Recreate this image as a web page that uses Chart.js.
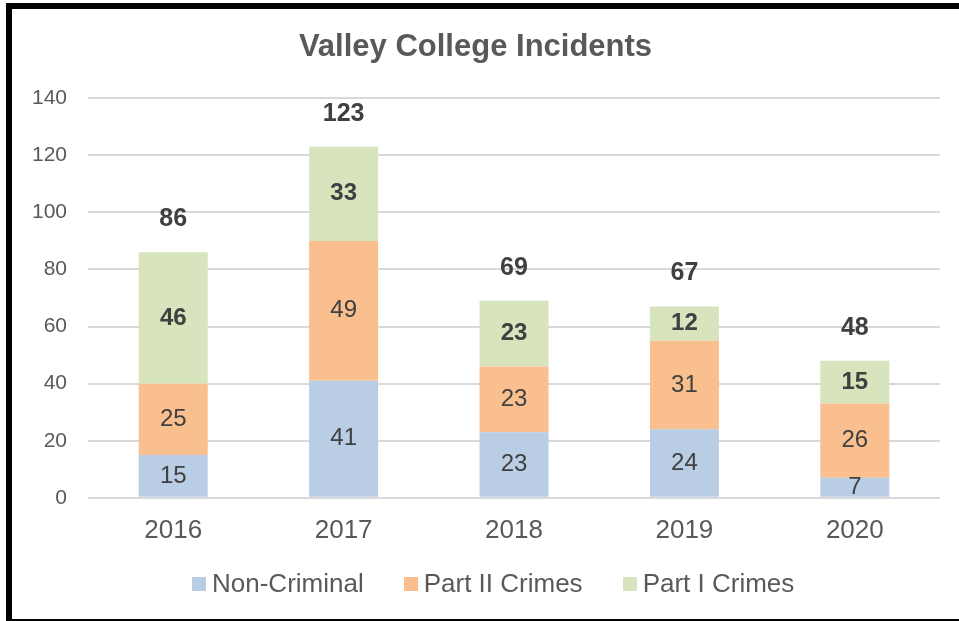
<!DOCTYPE html>
<html>
<head>
<meta charset="utf-8">
<script src="https://cdn.jsdelivr.net/npm/chart.js@4"></script>
<style>
  html, body { margin: 0; padding: 0; background: #fff; overflow: hidden; }
  #wrap { position: relative; width: 959px; height: 621px; }
  #frame {
    position: absolute; left: 6px; top: 3px; width: 1000px; height: 610px;
    border-left: 6px solid #000; border-top: 6px solid #000; border-bottom: 2px solid #000;
    pointer-events: none;
  }
  canvas { position: absolute; left: 0; top: 0; }
  #legend {
    position: absolute; left: 192px; top: 568px; height: 30px;
    display: flex; align-items: center;
    font-family: 'Liberation Sans', Arial, sans-serif; font-size: 26px; color: #595959;
    line-height: 30px; white-space: nowrap;
  }
  #legend .item { display: flex; align-items: center; margin-right: 40px; }
  #legend .box { width: 14px; height: 14px; margin-right: 6px; margin-top: 2px; }
</style>
</head>
<body>
<div id="wrap">
  <canvas id="c" width="959" height="621"></canvas>
  <div id="legend"></div>
  <div id="frame"></div>
</div>
<script>
const categories = ['2016', '2017', '2018', '2019', '2020'];
const seriesNames = ['Non-Criminal', 'Part II Crimes', 'Part I Crimes'];
const nonCriminal = [15, 41, 23, 24, 7];
const partII = [25, 49, 23, 31, 26];
const partI = [46, 33, 23, 12, 15];
const yTicks = [0, 20, 40, 60, 80, 100, 120, 140];
const seriesColors = ['#B9CDE5', '#F9BF8F', '#D7E4BD'];

const FONT = "'Liberation Sans', Arial, sans-serif";
const TEXT = '#595959';
const LABEL = '#404040';

const labelPlugin = {
  id: 'segLabels',
  afterDatasetsDraw(chart) {
    const ctx = chart.ctx;
    ctx.save();
    ctx.textAlign = 'center';
    ctx.textBaseline = 'middle';
    ctx.fillStyle = LABEL;
    chart.data.datasets.forEach((ds, di) => {
      const meta = chart.getDatasetMeta(di);
      meta.data.forEach((el, i) => {
        ctx.font = (ds.boldLabel ? 'bold ' : '') + '24px ' + FONT;
        ctx.fillText(String(ds.data[i]), el.x, (el.y + el.base) / 2);
      });
    });
    const last = chart.getDatasetMeta(chart.data.datasets.length - 1);
    ctx.font = 'bold 25px ' + FONT;
    last.data.forEach((el, i) => {
      const total = chart.data.datasets.reduce((s, ds) => s + ds.data[i], 0);
      ctx.fillText(String(total), el.x, el.y - 33);
    });
    ctx.restore();
  }
};

const chart = new Chart(document.getElementById('c'), {
  type: 'bar',
  data: {
    labels: categories,
    datasets: [
      { label: seriesNames[0], data: nonCriminal, backgroundColor: seriesColors[0], boldLabel: false },
      { label: seriesNames[1], data: partII, backgroundColor: seriesColors[1], boldLabel: false },
      { label: seriesNames[2], data: partI, backgroundColor: seriesColors[2], boldLabel: true }
    ]
  },
  options: {
    responsive: false,
    devicePixelRatio: 1,
    animation: false,
    layout: { padding: { top: 29, right: 19, left: 11, bottom: 58 } },
    datasets: { bar: { barPercentage: 0.405, categoryPercentage: 1.0 } },
    plugins: {
      title: {
        display: true,
        text: 'Valley College Incidents',
        color: TEXT,
        font: { family: FONT, size: 31, weight: 'bold', lineHeight: 1.2 },
        padding: { top: 0, bottom: 32 }
      },
      legend: { display: false },
      tooltip: { enabled: false }
    },
    scales: {
      x: {
        stacked: true,
        grid: { display: false, drawTicks: false },
        border: { display: false },
        ticks: { color: TEXT, font: { family: FONT, size: 26 }, padding: 17 }
      },
      y: {
        stacked: true,
        min: 0, max: 140,
        afterBuildTicks(axis) { axis.ticks = yTicks.map(v => ({ value: v })); },
        grid: { color: '#D9D9D9', lineWidth: 2, drawTicks: false },
        border: { display: false },
        ticks: { color: TEXT, font: { family: FONT, size: 21 }, padding: 21 }
      }
    }
  },
  plugins: [labelPlugin]
});

// HTML legend built from the chart's datasets
const legendEl = document.getElementById('legend');
chart.data.datasets.forEach(ds => {
  const item = document.createElement('div');
  item.className = 'item';
  const box = document.createElement('span');
  box.className = 'box';
  box.style.background = ds.backgroundColor;
  const txt = document.createElement('span');
  txt.textContent = ds.label;
  item.appendChild(box);
  item.appendChild(txt);
  legendEl.appendChild(item);
});
</script>
</body>
</html>
